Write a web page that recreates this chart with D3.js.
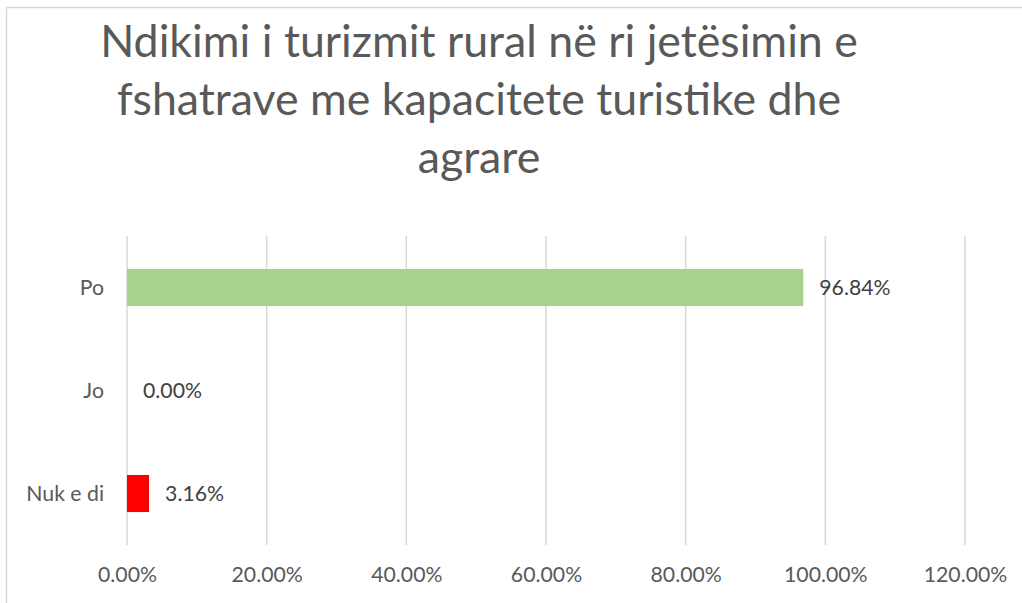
<!DOCTYPE html>
<html>
<head>
<meta charset="utf-8">
<script src="https://cdn.jsdelivr.net/npm/d3@7"></script>
<style>
  body { margin: 0; background: #fff; }
  svg { display: block; }
  text { font-family: Lato, "Open Sans", sans-serif; }
</style>
</head>
<body>
<div id="chart"></div>
<script>
// data
var titleLines = ["Ndikimi i turizmit rural në ri jetësimin e", "fshatrave me kapacitete turistike dhe", "agrare"];
var categories = ["Po", "Jo", "Nuk e di"];
var values = [96.84, 0.00, 3.16];
var tickValues = [0, 20, 40, 60, 80, 100, 120];

// styles
var barColors = { "Po": "#a9d18e", "Jo": "#ff0000", "Nuk e di": "#ff0000" };
var W = 1022, H = 603;

var svg = d3.select("#chart").append("svg")
  .attr("width", W).attr("height", H);

// chart frame (runs off the right / bottom of the picture)
svg.append("rect")
  .attr("x", 6.5).attr("y", 7.5)
  .attr("width", W + 20).attr("height", H + 20)
  .attr("fill", "#fff").attr("stroke", "#d9d9d9").attr("stroke-width", 1.5);

// pick a font size that gives the width Calibri would give
function fitSize(str, targetWidth, weight) {
  var t = svg.append("text").attr("font-size", 100).attr("font-weight", weight || 400).text(str);
  var w = t.node().getComputedTextLength();
  t.remove();
  return 100 * targetWidth / w;
}
var tickSize = fitSize("0.00%", 59);
var titleSize = fitSize(titleLines[0], 758, 400);

var x = d3.scaleLinear().domain([0, 120]).range([127, 965]);
var y = d3.scaleBand().domain(categories).range([236, 545])
  .paddingInner(0.64).paddingOuter(0.32);

// title
svg.append("g").selectAll("text")
  .data(titleLines)
  .enter().append("text")
  .attr("x", 479)
  .attr("y", function (d, i) { return 57 + i * 58; })
  .attr("text-anchor", "middle")
  .attr("font-size", titleSize)
  .attr("font-weight", 400)
  .attr("fill", "#595959")
  .text(function (d) { return d; });

// grid lines
svg.append("g").selectAll("line")
  .data(tickValues)
  .enter().append("line")
  .attr("x1", function (d) { return x(d); })
  .attr("x2", function (d) { return x(d); })
  .attr("y1", 236).attr("y2", 545)
  .attr("stroke", "#d9d9d9").attr("stroke-width", 1.5);

// x axis labels
var xAxis = svg.append("g")
  .attr("transform", "translate(0,575)")
  .call(d3.axisBottom(x).tickValues(tickValues).tickSize(0).tickPadding(0)
    .tickFormat(function (d) { return d3.format(".2f")(d) + "%"; }));
xAxis.select(".domain").remove();
xAxis.selectAll("text")
  .attr("y", 0).attr("dy", "0.35em")
  .attr("font-size", tickSize)
  .attr("font-family", "Lato, 'Open Sans', sans-serif")
  .attr("fill", "#595959");

// y axis labels
var yAxis = svg.append("g")
  .attr("transform", "translate(104,0)")
  .call(d3.axisLeft(y).tickSize(0).tickPadding(0));
yAxis.select(".domain").remove();
yAxis.selectAll("text")
  .attr("dy", "0.35em")
  .attr("font-size", tickSize)
  .attr("font-family", "Lato, 'Open Sans', sans-serif")
  .attr("fill", "#595959");

// bars
svg.append("g").selectAll("rect")
  .data(categories)
  .enter().append("rect")
  .attr("x", x(0))
  .attr("y", function (d) { return y(d); })
  .attr("width", function (d, i) { return x(values[i]) - x(0); })
  .attr("height", y.bandwidth())
  .attr("fill", function (d) { return barColors[d]; });

// data labels
svg.append("g").selectAll("text")
  .data(categories)
  .enter().append("text")
  .attr("x", function (d, i) { return x(values[i]) + 16; })
  .attr("y", function (d) { return y(d) + y.bandwidth() / 2; })
  .attr("dy", "0.35em")
  .attr("font-size", tickSize)
  .attr("fill", "#404040")
  .text(function (d, i) { return d3.format(".2f")(values[i]) + "%"; });
</script>
</body>
</html>
